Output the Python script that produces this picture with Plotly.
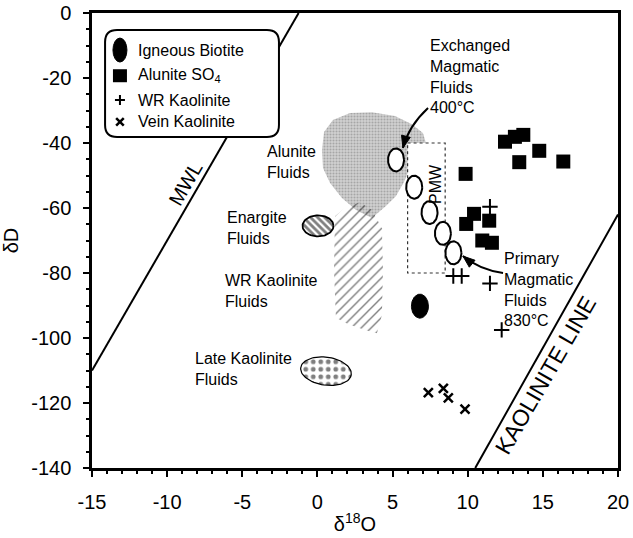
import numpy as np
import plotly.graph_objects as go

# ---------------- data ----------------
# Alunite SO4 (delta18O, deltaD)
alunite_x = [12.48, 13.14, 13.70, 14.76, 13.43, 16.36, 9.86, 10.42, 9.90, 11.43, 10.97, 11.61]
alunite_y = [-39.6, -38.1, -37.5, -42.4, -45.9, -45.7, -49.5, -61.8, -64.9, -63.9, -70.0, -70.7]

# whole-rock kaolinite
wr_x = [11.48, 9.04, 9.60, 11.48, 12.26]
wr_y = [-59.6, -80.9, -80.9, -83.2, -97.5]

# vein kaolinite
vein_x = [7.38, 8.38, 8.71, 9.82]
vein_y = [-116.8, -115.5, -118.4, -121.9]

# igneous biotite
biotite_x = [6.82]
biotite_y = [-90.2]

# magmatic fluid compositions, 400 C (exchanged) to 830 C (primary)
magmatic_x = [5.23, 6.44, 7.46, 8.35, 9.05]
magmatic_y = [-45.2, -53.6, -61.4, -67.8, -73.8]

# primary magmatic water box
pmw_x = [6.0, 8.5]
pmw_y = [-80.0, -40.0]

# alunite fluid field outline
alunite_fluid_x = [0.30, 0.44, 1.03, 2.17, 3.63, 5.16, 6.29, 7.02, 7.22, 6.89, 6.16,
                   5.76, 5.23, 4.56, 3.63, 2.57, 1.63, 0.84, 0.37]
alunite_fluid_y = [-42.2, -36.6, -32.9, -30.8, -30.5, -31.7, -34.2, -36.9, -40.0, -43.7, -47.7,
                   -52.0, -56.3, -59.4, -63.1, -60.6, -56.9, -52.3, -47.7]

# WR kaolinite fluid field outline
wrk_fluid_x = [1.17, 1.83, 2.83, 3.63, 4.29, 4.36, 4.29, 3.96, 3.16, 2.03, 1.23, 1.10]
wrk_fluid_y = [-62.5, -60.0, -58.2, -60.6, -66.2, -79.1, -92.9, -98.5, -97.5, -95.7, -93.8, -79.1]

# enargite and late kaolinite fluid fields (centres)
enargite_c = (0.04, -65.5)
late_kaol_c = (0.57, -110.2)

# meteoric water line: dD = 8 d18O + 10
mwl_slope, mwl_icpt = 8.0, 10.0
mwl_x = [-15.0, -1.25]
# kaolinite line end points
kaol_line_x = [10.5, 20.0]
kaol_line_y = [-140.0, -62.0]

x_range = [-15, 20]
y_range = [-140, 0]
x_ticks = [-15, -10, -5, 0, 5, 10, 15, 20]
y_ticks = [0, -20, -40, -60, -80, -100, -120, -140]

# ---------------- geometry helpers ----------------
W, H = 633, 538
ML, MR, MT, MB = 92, 15, 13, 70
PX_X = (W - ML - MR) / (x_range[1] - x_range[0])   # pixels per permil d18O
PX_Y = (H - MT - MB) / (y_range[1] - y_range[0])   # pixels per permil dD


def ellipse(cx, cy, rx_px, ry_px, rot_deg=0.0, n=80):
    t = np.linspace(0, 2 * np.pi, n)
    a = np.deg2rad(rot_deg)
    u = rx_px * np.cos(t)
    v = ry_px * np.sin(t)
    xp = u * np.cos(a) - v * np.sin(a)
    yp = u * np.sin(a) + v * np.cos(a)
    return list(cx + xp / PX_X), list(cy + yp / PX_Y)


def arrow_head(c, tip, length=12, half=4.5):
    # filled triangle at tip, aligned with the control->tip direction (pixel space)
    dx = (tip[0] - c[0]) * PX_X
    dy = (tip[1] - c[1]) * PX_Y
    n = np.hypot(dx, dy)
    ux, uy = dx / n, dy / n
    bx, by = -ux * length, -uy * length
    px, py = -uy * half, ux * half
    p1 = (tip[0] + (bx + px) / PX_X, tip[1] + (by + py) / PX_Y)
    p2 = (tip[0] + (bx - px) / PX_X, tip[1] + (by - py) / PX_Y)
    return f"M {tip[0]},{tip[1]} L {p1[0]},{p1[1]} L {p2[0]},{p2[1]} Z"


FONT = "Liberation Sans, Arial, Helvetica, sans-serif"
fig = go.Figure()

# alunite fluid field (stippled grey)
fig.add_trace(go.Scatter(
    x=alunite_fluid_x, y=alunite_fluid_y, mode="lines", fill="toself",
    line=dict(width=0, color="rgba(0,0,0,0)"), fillcolor="#d0d0d0",
    fillpattern=dict(shape=".", fgcolor="#7a7a7a", bgcolor="#d2d2d2", size=3, solidity=0.4),
    hoverinfo="skip", showlegend=False))

# WR kaolinite fluid field (hatched)
fig.add_trace(go.Scatter(
    x=wrk_fluid_x, y=wrk_fluid_y, mode="lines", fill="toself",
    line=dict(width=0, color="rgba(0,0,0,0)"),
    fillpattern=dict(shape="/", fgcolor="black", bgcolor="rgba(255,255,255,0)", size=7, solidity=0.2),
    hoverinfo="skip", showlegend=False))

# PMW box
fig.add_trace(go.Scatter(
    x=[pmw_x[0], pmw_x[1], pmw_x[1], pmw_x[0], pmw_x[0]],
    y=[pmw_y[1], pmw_y[1], pmw_y[0], pmw_y[0], pmw_y[1]],
    mode="lines", fill="toself", fillcolor="white",
    line=dict(color="#333", width=1.2, dash="dot"), hoverinfo="skip", showlegend=False))

# reference lines
fig.add_trace(go.Scatter(
    x=mwl_x, y=[mwl_slope * v + mwl_icpt for v in mwl_x], mode="lines",
    line=dict(color="black", width=2), hoverinfo="skip", showlegend=False))
fig.add_trace(go.Scatter(
    x=kaol_line_x, y=kaol_line_y, mode="lines",
    line=dict(color="black", width=2), hoverinfo="skip", showlegend=False))

# enargite fluids (dense hatching)
ex, ey = ellipse(enargite_c[0], enargite_c[1], 15.5, 10.5)
fig.add_trace(go.Scatter(
    x=ex, y=ey, mode="lines", fill="toself", line=dict(color="black", width=1.8),
    fillpattern=dict(shape="\\", fgcolor="black", bgcolor="white", size=5, solidity=0.55),
    hoverinfo="skip", showlegend=False))

# late kaolinite fluids (dotted)
lx, ly = ellipse(late_kaol_c[0], late_kaol_c[1], 25.5, 14, rot_deg=-8)
fig.add_trace(go.Scatter(
    x=lx, y=ly, mode="lines", fill="toself", line=dict(color="black", width=1.2),
    fillpattern=dict(shape=".", fgcolor="black", bgcolor="white", size=7.5, solidity=0.32),
    hoverinfo="skip", showlegend=False))

# magmatic fluid ellipses
for cx, cy in zip(magmatic_x, magmatic_y):
    mx, my = ellipse(cx, cy, 8, 11.5)
    fig.add_trace(go.Scatter(
        x=mx, y=my, mode="lines", fill="toself", fillcolor="white",
        line=dict(color="black", width=2), hoverinfo="skip", showlegend=False))

# igneous biotite
for cx, cy in zip(biotite_x, biotite_y):
    bx, by = ellipse(cx, cy, 8.5, 12)
    fig.add_trace(go.Scatter(
        x=bx, y=by, mode="lines", fill="toself", fillcolor="black",
        line=dict(color="black", width=1), hoverinfo="skip", showlegend=False))

# sample points
fig.add_trace(go.Scatter(
    x=alunite_x, y=alunite_y, mode="markers", name="Alunite SO4",
    marker=dict(symbol="square", size=14, color="black"), showlegend=False))
fig.add_trace(go.Scatter(
    x=wr_x, y=wr_y, mode="markers", name="WR Kaolinite",
    marker=dict(symbol="cross-thin", size=11, line=dict(width=2, color="black")), showlegend=False))
fig.add_trace(go.Scatter(
    x=vein_x, y=vein_y, mode="markers", name="Vein Kaolinite",
    marker=dict(symbol="x-thin", size=9, line=dict(width=2.5, color="black")), showlegend=False))

# ---------------- key box ----------------
shapes = []
kx0, kx1, ky0, ky1 = -14.13, -2.56, -38.15, -5.23
rx, ry = 12 / PX_X, 12 / PX_Y
shapes.append(dict(
    type="path", xref="x", yref="y", layer="above",
    path=(f"M {kx0+rx},{ky1} L {kx1-rx},{ky1} Q {kx1},{ky1} {kx1},{ky1-ry} "
          f"L {kx1},{ky0+ry} Q {kx1},{ky0} {kx1-rx},{ky0} L {kx0+rx},{ky0} "
          f"Q {kx0},{ky0} {kx0},{ky0+ry} L {kx0},{ky1-ry} Q {kx0},{ky1} {kx0+rx},{ky1} Z"),
    fillcolor="white", line=dict(color="black", width=2)))

key_sym_x = -13.14
key_rows_y = [-11.4, -19.3, -26.8, -33.5]
key_labels = ["Igneous Biotite", "Alunite SO<sub>4</sub>", "WR Kaolinite", "Vein Kaolinite"]

# key symbols
sx, sy = 7 / PX_X, 12 / PX_Y
shapes.append(dict(type="circle", xref="x", yref="y", layer="above",
                   x0=key_sym_x - sx, x1=key_sym_x + sx,
                   y0=key_rows_y[0] - sy, y1=key_rows_y[0] + sy,
                   fillcolor="black", line=dict(color="black", width=1)))
qx, qy = 7 / PX_X, 6.5 / PX_Y
shapes.append(dict(type="rect", xref="x", yref="y", layer="above",
                   x0=key_sym_x - qx, x1=key_sym_x + qx,
                   y0=key_rows_y[1] - qy, y1=key_rows_y[1] + qy,
                   fillcolor="black", line=dict(color="black", width=0)))
px_, py_ = 5 / PX_X, 5 / PX_Y
shapes.append(dict(type="path", xref="x", yref="y", layer="above",
                   path=(f"M {key_sym_x-px_},{key_rows_y[2]} L {key_sym_x+px_},{key_rows_y[2]} "
                         f"M {key_sym_x},{key_rows_y[2]-py_} L {key_sym_x},{key_rows_y[2]+py_}"),
                   line=dict(color="black", width=2)))
cx_, cy_ = 3.8 / PX_X, 3.8 / PX_Y
shapes.append(dict(type="path", xref="x", yref="y", layer="above",
                   path=(f"M {key_sym_x-cx_},{key_rows_y[3]-cy_} L {key_sym_x+cx_},{key_rows_y[3]+cy_} "
                         f"M {key_sym_x-cx_},{key_rows_y[3]+cy_} L {key_sym_x+cx_},{key_rows_y[3]-cy_}"),
                   line=dict(color="black", width=2.5)))

# ---------------- curved pointers ----------------
# (start, control, tip)
ptr_exchanged = [(7.36, -29.2), (6.06, -34.8), (5.69, -41.5)]
ptr_primary = [(12.35, -80.0), (10.81, -79.1), (9.68, -74.8)]
for (p0, c, p1) in [ptr_exchanged, ptr_primary]:
    shapes.append(dict(type="path", xref="x", yref="y", layer="above",
                       path=f"M {p0[0]},{p0[1]} Q {c[0]},{c[1]} {p1[0]},{p1[1]}",
                       line=dict(color="black", width=2)))
    shapes.append(dict(type="path", xref="x", yref="y", layer="above",
                       path=arrow_head(c, p1), fillcolor="black",
                       line=dict(color="black", width=1)))

annotations = []
# key labels
for lab, yy in zip(key_labels, key_rows_y):
    annotations.append(dict(x=-12.07, y=yy, xref="x", yref="y", text=lab, showarrow=False,
                            xanchor="left", yanchor="middle", font=dict(size=16)))

# field labels
labels = [
    ("Exchanged<br>Magmatic<br>Fluids<br>400°C", 7.36, -19.4),
    ("Primary<br>Magmatic<br>Fluids<br>830°C", 12.28, -85.2),
    ("Alunite<br>Fluids", -3.49, -45.7),
    ("Enargite<br>Fluids", -6.15, -66.0),
    ("WR Kaolinite<br>Fluids", -6.28, -85.4),
    ("Late Kaolinite<br>Fluids", -8.28, -109.5),
]
for txt, xx, yy in labels:
    annotations.append(dict(x=xx, y=yy, xref="x", yref="y", text=txt, showarrow=False,
                            xanchor="left", yanchor="middle", align="left", font=dict(size=16)))

annotations.append(dict(x=7.85, y=-52.5, xref="x", yref="y", text="PMW", showarrow=False,
                        textangle=-90, font=dict(size=16)))
annotations.append(dict(x=-8.75, y=-52.3, xref="x", yref="y", text="MWL", showarrow=False,
                        textangle=-60, font=dict(size=20)))
annotations.append(dict(x=15.2, y=-111.5, xref="x", yref="y", text="KAOLINITE LINE",
                        showarrow=False, textangle=-60, font=dict(size=23)))

fig.update_layout(
    width=W, height=H,
    margin=dict(l=ML, r=MR, t=MT, b=MB, autoexpand=False),
    paper_bgcolor="white", plot_bgcolor="white",
    font=dict(family=FONT, color="black", size=16),
    shapes=shapes, annotations=annotations, showlegend=False,
)
fig.update_xaxes(
    range=x_range, tickvals=x_ticks, ticktext=[str(v) for v in x_ticks],
    showgrid=False, zeroline=False, automargin=False,
    showline=True, linecolor="black", linewidth=2.5, mirror=True,
    ticks="outside", ticklen=6, tickwidth=2, tickcolor="black",
    minor=dict(dtick=1, ticks="outside", ticklen=3, tickwidth=1.5, tickcolor="black"),
    tickfont=dict(size=20), ticklabelstandoff=8,
    title=dict(text="δ<sup>18</sup>O", font=dict(size=20), standoff=6),
)
fig.update_yaxes(
    range=y_range, tickvals=y_ticks, ticktext=[str(v) for v in y_ticks],
    showgrid=False, zeroline=False, automargin=False,
    showline=True, linecolor="black", linewidth=2.5, mirror=True,
    ticks="outside", ticklen=6, tickwidth=2, tickcolor="black",
    minor=dict(dtick=5, ticks="outside", ticklen=3, tickwidth=1.5, tickcolor="black"),
    tickfont=dict(size=20), ticklabelstandoff=8,
    title=dict(text="δD", font=dict(size=20), standoff=10),
)

fig.write_html("out.html")
